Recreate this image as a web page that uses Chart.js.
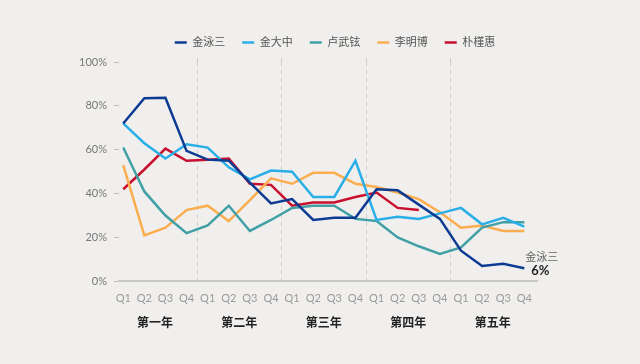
<!DOCTYPE html>
<html>
<head>
<meta charset="utf-8">
<script src="https://cdn.jsdelivr.net/npm/chart.js@4.4.1/dist/chart.umd.min.js"></script>
<style>
  html, body { margin: 0; padding: 0; background: #f0efed; }
  #wrap { width: 640px; height: 364px; position: relative; }
</style>
</head>
<body>
<div id="wrap"><canvas id="chart"></canvas></div>
<script>
// quarterly approval ratings, five years of each presidency
const quarterLabels = ['Q1', 'Q2', 'Q3', 'Q4', 'Q1', 'Q2', 'Q3', 'Q4', 'Q1', 'Q2', 'Q3', 'Q4',
  'Q1', 'Q2', 'Q3', 'Q4', 'Q1', 'Q2', 'Q3', 'Q4'];
const yearLabels = ['第一年', '第二年', '第三年', '第四年', '第五年'];
const yTicks = [0, 20, 40, 60, 80, 100];

const kimYoungsam = [72, 83.5, 83.7, 59.5, 55.5, 55, 45, 35.5, 37.5, 28, 29, 29, 42, 41.5, 35, 28.5, 14, 7, 8, 6];
const kimDaejung = [72, 63, 56, 62.5, 61, 52, 46.5, 50.5, 50, 38.5, 38.5, 55, 28, 29.5, 28.5, 31, 33.5, 26, 29, 25];
const rohMoohyun = [61, 41, 30, 22, 25.5, 34.5, 23, 28, 33.5, 34.5, 34.5, 28.5, 27.5, 20, 16, 12.5, 15.5, 24.5, 27, 27];
const leeMyungbak = [53, 21, 24.5, 32.5, 34.5, 27.5, 37, 47, 44.5, 49.5, 49.5, 44.5, 43, 40.5, 37.5, 31.5, 24.5, 25.5, 23, 23];
const parkGeunhye = [42, 51, 60.5, 55, 55.5, 56, 44.5, 44, 34.5, 36, 36, 38.5, 40.5, 33.5, 32.5];

const names = ['金泳三', '金大中', '卢武铉', '李明博', '朴槿惠'];
const colors = ['#0d3b94', '#2aaee8', '#40a0a5', '#fbad4f', '#c8102e'];
const series = [kimYoungsam, kimDaejung, rohMoohyun, leeMyungbak, parkGeunhye];

Chart.defaults.font.family = "Lato, 'Noto Sans CJK SC', sans-serif";

function toPoints(values) {
  return values.map((v, i) => ({ x: i, y: v }));
}

// end label for the first series
const endLabel = {
  id: 'endLabel',
  afterDatasetsDraw(chart) {
    const meta = chart.getDatasetMeta(0);
    const last = meta.data[meta.data.length - 1];
    const ds = chart.data.datasets[0];
    const value = ds.data[ds.data.length - 1].y;
    const ctx = chart.ctx;
    ctx.save();
    ctx.textAlign = 'left';
    ctx.textBaseline = 'middle';
    ctx.fillStyle = '#666';
    ctx.font = "11px Lato, 'Noto Sans CJK SC', sans-serif";
    ctx.fillText(ds.label, last.x + 1, last.y - 11);
    ctx.fillStyle = '#222';
    ctx.font = "bold 13px Lato, 'Noto Sans CJK SC', sans-serif";
    ctx.fillText(Math.round(value) + '%', last.x + 7, last.y + 3);
    ctx.restore();
  }
};

// legend sits centred a bit right of the canvas middle
const legendShift = {
  id: 'legendShift',
  afterLayout(chart) {
    const l = chart.legend;
    const dx = 335 - (l.left + l.right) / 2;
    l.left += dx;
    l.right += dx;
  }
};

new Chart(document.getElementById('chart').getContext('2d'), {
  type: 'line',
  data: {
    datasets: series.map((vals, i) => ({
      label: names[i],
      data: toPoints(vals),
      borderColor: colors[i],
      backgroundColor: colors[i],
      borderWidth: 2.5,
      pointRadius: 0,
      tension: 0,
      pointStyle: 'line'
    }))
  },
  options: {
    responsive: true,
    maintainAspectRatio: false,
    animation: false,
    layout: { padding: { top: 20, right: 103, bottom: 33, left: 0 } },
    plugins: {
      tooltip: { enabled: false },
      legend: {
        position: 'top',
        labels: {
          usePointStyle: true,
          pointStyleWidth: 12,
          padding: 17,
          color: '#555',
          font: { size: 11 }
        }
      }
    },
    scales: {
      x: {
        type: 'linear',
        position: 'bottom',
        min: -0.2,
        max: 19.6,
        afterBuildTicks: (s) => { s.ticks = quarterLabels.map((_, i) => ({ value: i })); },
        ticks: {
          autoSkip: false,
          maxRotation: 0,
          padding: 10,
          color: '#9a9a9a',
          font: { size: 11 },
          callback: (v, i) => quarterLabels[i]
        },
        grid: { display: false, drawTicks: false },
        border: { display: true, color: '#c8c8c6', width: 2 }
      },
      years: {
        type: 'linear',
        position: 'bottom',
        min: -0.2,
        max: 19.6,
        afterBuildTicks: (s) => { s.ticks = yearLabels.map((_, k) => ({ value: k * 4 + 1.5 })); },
        ticks: {
          autoSkip: false,
          maxRotation: 0,
          padding: 1,
          color: '#222',
          font: { size: 12, weight: 'bold' },
          callback: (v, i) => yearLabels[i]
        },
        grid: { display: false, drawTicks: false },
        border: { display: false }
      },
      split: {
        type: 'linear',
        position: 'top',
        min: -0.2,
        max: 19.6,
        afterBuildTicks: (s) => { s.ticks = yearLabels.slice(1).map((_, k) => ({ value: (k + 1) * 4 - 0.5 })); },
        ticks: { display: false },
        grid: { color: '#cfcfcd', lineWidth: 1, drawTicks: true, tickLength: 4, tickBorderDash: [4, 4] },
        border: { display: false, dash: [4, 4] }
      },
      y: {
        min: 0,
        max: 100,
        afterBuildTicks: (s) => { s.ticks = yTicks.map((v) => ({ value: v })); },
        afterFit: (s) => { s.width = 119; },
        ticks: {
          padding: 7,
          color: '#777',
          font: { size: 11 },
          callback: (v) => v + '%'
        },
        grid: { drawOnChartArea: false, drawTicks: true, tickLength: 5, color: '#bdbdbb' },
        border: { display: false }
      }
    }
  },
  plugins: [endLabel, legendShift]
});
</script>
</body>
</html>
